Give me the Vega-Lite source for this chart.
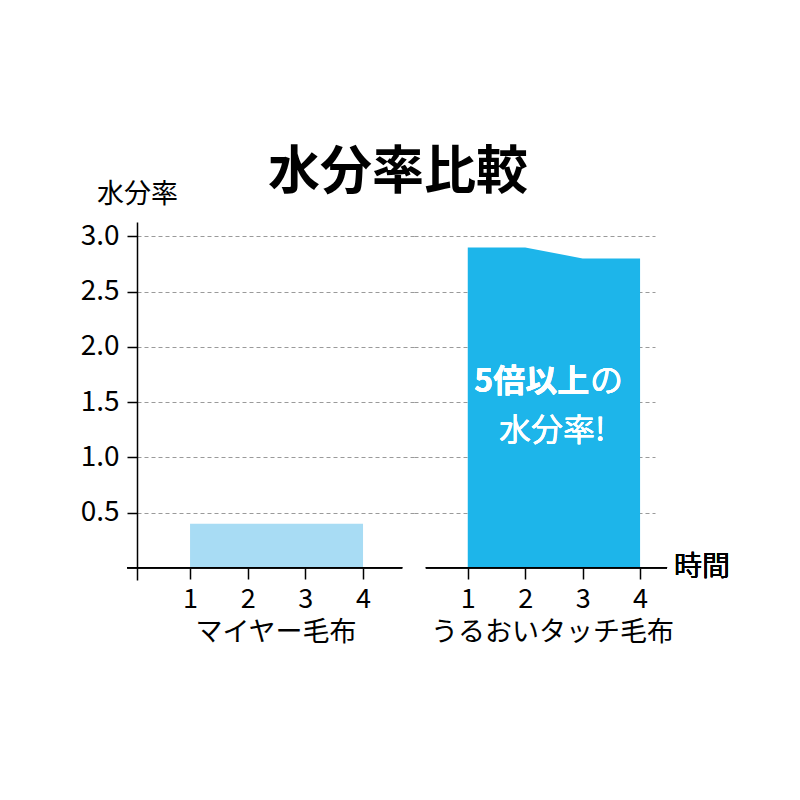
{
  "$schema": "https://vega.github.io/schema/vega-lite/v6.json",
  "padding": {"left": 80, "top": 147, "right": 5, "bottom": 5},
  "background": "white",
  "title": {"text": "水分率比較", "fontSize": 52, "fontWeight": "bold", "font": "Noto Sans CJK JP", "color": "#000000", "anchor": "middle", "offset": -20, "dx": -7},
  "config": {
    "view": {"stroke": null},
    "font": "Noto Sans CJK JP",
    "axis": {"labelColor": "#000000", "titleColor": "#000000", "titleFontWeight": "normal", "labelFont": "Noto Sans CJK JP", "titleFont": "Noto Sans CJK JP"}
  },
  "spacing": 0,
  "resolve": {"scale": {"x": "independent", "y": "independent"}},
  "hconcat": [
    {
      "width": 277,
      "height": 358,
      "data": {"values": [{"t": 1, "v": 0.4}, {"t": 2, "v": 0.4}, {"t": 3, "v": 0.4}, {"t": 4, "v": 0.4}]},
      "layer": [
        {
          "mark": {"type": "area", "color": "#a8dcf4", "opacity": 1},
          "encoding": {
            "x": {"field": "t", "type": "quantitative", "scale": {"domain": [0.08, 4.884], "nice": false, "zero": false},
              "axis": {"values": [1, 2, 3, 4], "format": "d", "title": "マイヤー毛布", "titleFontSize": 27, "labelFontSize": 27, "domain": false, "grid": false, "ticks": true, "tickColor": "#000000", "tickSize": 11, "tickWidth": 1.5, "offset": -12, "labelPadding": 7, "titlePadding": 7, "labelFlush": false}},
            "y": {"field": "v", "type": "quantitative", "scale": {"domain": [-0.11, 3.13], "nice": false, "zero": false},
              "axis": {"values": [0.5, 1.0, 1.5, 2.0, 2.5, 3.0], "format": ".1f", "grid": true, "gridDash": [4, 3], "gridColor": "#9a9a9a", "gridWidth": 1, "domain": true, "domainColor": "#000000", "domainWidth": 1.5, "ticks": true, "tickColor": "#000000", "tickSize": 10, "tickWidth": 1.5, "labelFontSize": 28, "labelPadding": 8, "title": "水分率", "titleAngle": 0, "titleX": 0, "titleY": -28, "titleFontSize": 27, "titleAlign": "center", "titleBaseline": "middle"}},
            "y2": {"datum": 0}
          }
        },
        {
          "mark": {"type": "rule", "color": "#000000", "strokeWidth": 1.5},
          "encoding": {"x": {"datum": -0.09}, "x2": {"datum": 4.68}, "y": {"datum": 0}}
        }
      ]
    },
    {
      "width": 241,
      "height": 358,
      "data": {"values": [{"t": 1, "v": 2.9}, {"t": 2, "v": 2.9}, {"t": 3, "v": 2.8}, {"t": 4, "v": 2.8}]},
      "layer": [
        {
          "mark": {"type": "area", "color": "#1db5ea", "opacity": 1},
          "encoding": {
            "x": {"field": "t", "type": "quantitative", "scale": {"domain": [0.064, 4.26], "nice": false, "zero": false},
              "axis": {"values": [1, 2, 3, 4], "format": "d", "title": "うるおいタッチ毛布", "titleFontSize": 27, "labelFontSize": 27, "domain": false, "grid": false, "ticks": true, "tickColor": "#000000", "tickSize": 11, "tickWidth": 1.5, "offset": -12, "labelPadding": 7, "titlePadding": 7, "labelFlush": false, "titleX": 138}},
            "y": {"field": "v", "type": "quantitative", "scale": {"domain": [-0.11, 3.13], "nice": false, "zero": false},
              "axis": {"values": [0.5, 1.0, 1.5, 2.0, 2.5, 3.0], "grid": true, "gridDash": [4, 3], "gridColor": "#9a9a9a", "gridWidth": 1, "domain": false, "ticks": false, "labels": false, "title": null}},
            "y2": {"datum": 0}
          }
        },
        {
          "mark": {"type": "rule", "color": "#000000", "strokeWidth": 1.5},
          "encoding": {"x": {"datum": 0.27}, "x2": {"datum": 4.47}, "y": {"datum": 0}}
        },
        {
          "mark": {"type": "text", "text": "時間", "fontSize": 28, "align": "left", "baseline": "middle", "color": "#000000"},
          "encoding": {"x": {"datum": 4.59}, "y": {"datum": 0}}
        },
        {
          "mark": {"type": "text", "text": "5倍以上", "fontSize": 32, "fontWeight": "bold", "align": "right", "baseline": "middle", "color": "#ffffff"},
          "encoding": {"x": {"datum": 3.115}, "y": {"datum": 1.685}}
        },
        {
          "mark": {"type": "text", "text": "の", "fontSize": 33, "align": "left", "baseline": "middle", "color": "#ffffff"},
          "encoding": {"x": {"datum": 3.13}, "y": {"datum": 1.685}}
        },
        {
          "mark": {"type": "text", "text": "水分率!", "fontSize": 32, "align": "center", "baseline": "middle", "color": "#ffffff"},
          "encoding": {"x": {"datum": 2.47}, "y": {"datum": 1.24}}
        }
      ]
    }
  ]
}
